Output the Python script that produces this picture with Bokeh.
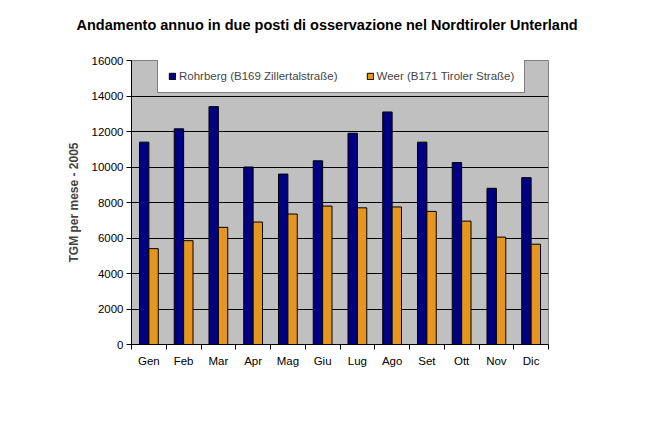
from bokeh.plotting import figure
from bokeh.models import ColumnDataSource, FixedTicker, Range1d, Legend, LegendItem, Title
from bokeh.embed import file_html
from bokeh.resources import INLINE
from bokeh.transform import dodge

months = ["Gen", "Feb", "Mar", "Apr", "Mag", "Giu", "Lug", "Ago", "Set", "Ott", "Nov", "Dic"]
rohrberg = [11400, 12150, 13400, 10000, 9600, 10350, 11900, 13100, 11400, 10250, 8800, 9400]
weer = [5400, 5850, 6600, 6900, 7350, 7800, 7700, 7750, 7500, 6950, 6050, 5650]
series_names = ["Rohrberg (B169 Zillertalstraße)", "Weer (B171 Tiroler Straße)"]
y_ticks = [0, 2000, 4000, 6000, 8000, 10000, 12000, 14000, 16000]

xpos = [i + 0.5 for i in range(len(months))]
src = ColumnDataSource(dict(x=xpos, month=months, r=rohrberg, w=weer))

FONT = "Liberation Sans"

p = figure(width=650, height=421, output_backend="svg", toolbar_location=None,
           x_range=Range1d(0, 12), y_range=Range1d(0, 16000),
           min_border_left=131, min_border_right=102, min_border_top=60, min_border_bottom=77)
p.background_fill_color = "#C0C0C0"
p.border_fill_color = "white"
p.outline_line_color = "#808080"
p.outline_line_width = 1

bw = 0.27
r1 = p.vbar(x=dodge("x", -bw / 2, range=p.x_range), top="r", width=bw, bottom=0, source=src,
            fill_color="#000080", line_color="black", line_width=1)
r2 = p.vbar(x=dodge("x", bw / 2, range=p.x_range), top="w", width=bw, bottom=0, source=src,
            fill_color="#E6961E", line_color="black", line_width=1)

# a blank spacer title sits between the frame and the real title
p.add_layout(Title(text=" ", text_font_size="23px", standoff=0), "above")
p.title = Title(text="Andamento annuo in due posti di osservazione nel Nordtiroler Unterland",
                align="left", offset=-55, text_font=FONT, text_font_size="14.5px",
                text_font_style="bold", text_color="black", standoff=0)

# axes
p.xaxis.ticker = FixedTicker(ticks=xpos, minor_ticks=list(range(0, 13)))
p.xaxis.major_label_overrides = {x: m for x, m in zip(xpos, months)}
p.xaxis.major_tick_out = 0
p.xaxis.major_tick_in = 0
p.xaxis.minor_tick_out = 5
p.xaxis.minor_tick_in = 0
p.xaxis.minor_tick_line_color = "black"
p.xaxis.major_label_standoff = 5
p.yaxis.ticker = FixedTicker(ticks=y_ticks, minor_ticks=[])
p.yaxis.major_tick_out = 5
p.yaxis.major_tick_in = 0
p.yaxis.major_label_standoff = 3
for ax in (p.xaxis, p.yaxis):
    ax.axis_line_color = "black"
    ax.major_tick_line_color = "black"
    ax.major_label_text_font = FONT
    ax.major_label_text_font_size = "11.5px"
    ax.major_label_text_color = "black"
p.yaxis.axis_label = "TGM per mese - 2005"
p.yaxis.axis_label_text_font = FONT
p.yaxis.axis_label_text_font_size = "12px"
p.yaxis.axis_label_text_font_style = "bold"
p.yaxis.axis_label_standoff = 8

p.xgrid.grid_line_color = None
p.ygrid.grid_line_color = "black"
p.ygrid.grid_line_width = 1

legend = Legend(items=[LegendItem(label=series_names[0], renderers=[r1]),
                       LegendItem(label=series_names[1], renderers=[r2])],
                orientation="horizontal", location=(26, 251),
                label_text_font=FONT, label_text_font_size="11.5px",
                glyph_width=8, glyph_height=8, label_standoff=3, spacing=28,
                padding=10, margin=0,
                border_line_color="black", border_line_width=1,
                background_fill_color="white", background_fill_alpha=1)
legend.label_height = 10
p.add_layout(legend, "center")

open("out.html", "w").write(file_html(p, INLINE))
